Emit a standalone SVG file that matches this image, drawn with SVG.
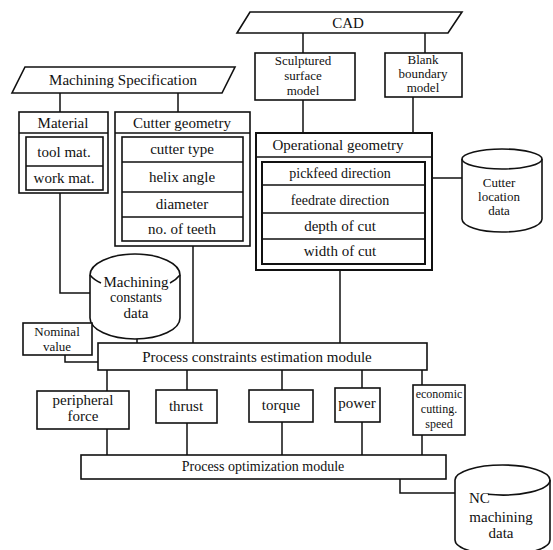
<svg xmlns="http://www.w3.org/2000/svg" width="553" height="550" viewBox="0 0 553 550">
<style>
.s{fill:#fff;stroke:#111;stroke-width:1.6}
.n{fill:none;stroke:#111;stroke-width:1.6}
.c{fill:none;stroke:#111;stroke-width:1.5}
.t{font-family:"Liberation Serif","Times New Roman",serif;font-size:15px;fill:#111;text-anchor:middle}
.ts{font-family:"Liberation Serif","Times New Roman",serif;font-size:14px;fill:#111;text-anchor:middle}
.tx{font-family:"Liberation Serif","Times New Roman",serif;font-size:13px;fill:#111;text-anchor:middle}
</style>
<rect width="553" height="550" fill="#fff"/>
<g id="connectors">
<path class="c" d="M60 93V112M178 93V112"/>
<path class="c" d="M303 33V53M425 33V53"/>
<path class="c" d="M303 100V133M413 97V133"/>
<path class="c" d="M432 178H462"/>
<path class="c" d="M60 193V293H90"/>
<path class="c" d="M193 246V343"/>
<path class="c" d="M137 339V343"/>
<path class="c" d="M340 270V343"/>
<path class="c" d="M65 355V362H98"/>
<path class="c" d="M107 370V391M187 370V390M282 370V390M362 370V388M422 370V385"/>
<path class="c" d="M107 429V455M187 423V455M282 422V455M362 422V455M422 435V455"/>
<path class="c" d="M400 479V493H455"/>
</g>
<g id="machining-specification">
<polygon class="s" points="25,67 235,67 222,93 12,93"/>
<text class="t" x="123" y="85">Machining Specification</text>
</g>
<g id="material">
<rect class="s" x="19" y="112" width="89" height="81"/>
<path class="n" d="M19 133H108"/>
<text class="t" x="63" y="128">Material</text>
<rect class="s" x="26" y="137" width="77" height="53"/>
<path class="n" d="M26 166H103"/>
<text class="t" x="64" y="157">tool mat.</text>
<text class="t" x="64" y="183">work mat.</text>
</g>
<g id="cutter-geometry">
<rect class="s" x="115" y="112" width="135" height="134"/>
<path class="n" d="M115 133H250"/>
<text class="t" x="182" y="128">Cutter  geometry</text>
<rect class="s" x="122" y="137" width="121" height="104"/>
<path class="n" d="M122 162H243M122 192H243M122 217H243"/>
<text class="t" x="182" y="154">cutter  type</text>
<text class="t" x="182" y="182">helix  angle</text>
<text class="t" x="182" y="209">diameter</text>
<text class="t" x="182" y="234">no.  of  teeth</text>
</g>
<g id="cad">
<polygon class="s" points="250,12 462,12 448,33 237,33"/>
<text class="t" x="348" y="28">CAD</text>
</g>
<g id="sculptured-surface-model">
<rect class="s" x="255" y="53" width="100" height="47"/>
<text class="tx" x="303" y="65">Sculptured</text>
<text class="tx" x="303" y="80">surface</text>
<text class="tx" x="303" y="95">model</text>
</g>
<g id="blank-boundary-model">
<rect class="s" x="385" y="53" width="77" height="44"/>
<text class="tx" x="423" y="64">Blank</text>
<text class="tx" x="423" y="78">boundary</text>
<text class="tx" x="423" y="92">model</text>
</g>
<g id="operational-geometry">
<rect class="s" x="256" y="133" width="176" height="137" style="stroke-width:2"/>
<path class="n" d="M256 157H432"/>
<text class="t" x="338" y="150">Operational   geometry</text>
<rect class="s" x="262" y="162" width="163" height="102" style="stroke-width:2"/>
<path class="n" d="M262 185H425M262 213H425M262 239H425"/>
<text class="ts" x="340" y="178">pickfeed direction</text>
<text class="ts" x="340" y="205">feedrate direction</text>
<text class="t" x="340" y="231">depth of cut</text>
<text class="t" x="340" y="256">width of cut</text>
</g>
<g id="cutter-location-data">
<path class="s" d="M462 159A40 10 0 0 1 542 159V219A40 13 0 0 1 462 219Z"/>
<path class="n" d="M462 159A40 10 0 0 0 542 159"/>
<text class="tx" x="499" y="187">Cutter</text>
<text class="tx" x="499" y="201">location</text>
<text class="tx" x="499" y="215">data</text>
</g>
<g id="machining-constants-data">
<path class="s" d="M90 275A45 21 0 0 1 180 275V318A45 21 0 0 1 90 318Z"/>
<path class="n" d="M90 275Q94 280 101 283M170 283Q176 280 180 275"/>
<text class="t" x="136" y="287">Machining</text>
<text class="ts" x="136" y="302">constants</text>
<text class="t" x="136" y="318">data</text>
</g>
<g id="nominal-value">
<rect class="s" x="23" y="323" width="69" height="32"/>
<text class="tx" x="57" y="336">Nominal</text>
<text class="tx" x="57" y="351">value</text>
</g>
<g id="process-constraints">
<rect class="s" x="98" y="343" width="329" height="27"/>
<text class="t" x="257" y="362">Process constraints estimation module</text>
</g>
<g id="peripheral-force">
<rect class="s" x="37" y="391" width="92" height="38"/>
<text class="t" x="83" y="405">peripheral</text>
<text class="t" x="83" y="421">force</text>
</g>
<g id="thrust">
<rect class="s" x="156" y="390" width="61" height="33"/>
<text class="t" x="186" y="411">thrust</text>
</g>
<g id="torque">
<rect class="s" x="249" y="390" width="64" height="32"/>
<text class="t" x="281" y="410">torque</text>
</g>
<g id="power">
<rect class="s" x="335" y="388" width="45" height="34"/>
<text class="t" x="357" y="408">power</text>
</g>
<g id="economic-cutting-speed">
<rect class="s" x="413" y="385" width="52" height="50"/>
<text class="tx" x="439" y="398" style="font-size:12px">economic</text>
<text class="tx" x="439" y="413" style="font-size:12px">cutting.</text>
<text class="tx" x="439" y="428" style="font-size:12px">speed</text>
</g>
<g id="process-optimization">
<rect class="s" x="81" y="455" width="365" height="24"/>
<text class="ts" x="263" y="471">Process optimization module</text>
</g>
<g id="nc-machining-data">
<path class="s" d="M455 480A47.5 15 0 0 1 550 480V540A47.5 15 0 0 1 455 540Z"/>
<path class="n" d="M488 494.3A47.5 15 0 0 0 550 480"/>
<text class="t" x="469" y="503" style="text-anchor:start">NC</text>
<text class="t" x="501" y="522">machining</text>
<text class="t" x="501" y="538">data</text>
</g>
</svg>
